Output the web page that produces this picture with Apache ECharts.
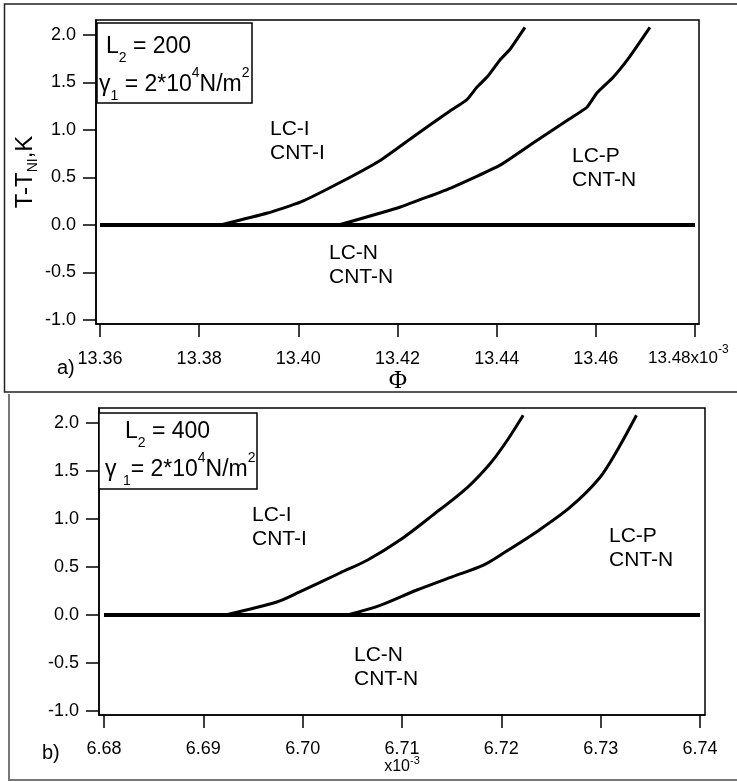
<!DOCTYPE html>
<html><head><meta charset="utf-8">
<script src="https://cdn.jsdelivr.net/npm/echarts@6/dist/echarts.min.js"></script>
<style>html,body{margin:0;padding:0;background:#fff}#c{width:737px;height:782px}</style>
</head><body><div id="c"></div>
<script>
// tick values
const yTicks = [-1.0, -0.5, 0.0, 0.5, 1.0, 1.5, 2.0];
const topXTicks = [13.36, 13.38, 13.40, 13.42, 13.44, 13.46, 13.48];
const topXLabels = [13.36, 13.38, 13.40, 13.42, 13.44, 13.46];   // 13.48 is written with its x10^-3 suffix
const botXTicks = [6.68, 6.69, 6.70, 6.71, 6.72, 6.73, 6.74];

// panel a) L2 = 200   (Phi in units of 1e-3, T-T_NI in K)
const aBaseX = [13.36, 13.48];
const aBaseY = [0, 0];
const aLeftX = [13.3843, 13.3938, 13.4004, 13.4085, 13.4165, 13.4232, 13.4300, 13.4340, 13.4360, 13.4381, 13.4407, 13.4427, 13.4457];
const aLeftY = [0, 0.126, 0.24, 0.45, 0.68, 0.93, 1.18, 1.32, 1.45, 1.56, 1.74, 1.85, 2.08];
const aRightX = [13.4081, 13.4206, 13.4312, 13.4407, 13.4481, 13.4548, 13.4582, 13.4602, 13.4634, 13.4668, 13.4709];
const aRightY = [0, 0.19, 0.40, 0.63, 0.89, 1.12, 1.24, 1.39, 1.55, 1.77, 2.08];

// panel b) L2 = 400
const bBaseX = [6.68, 6.74];
const bBaseY = [0, 0];
const bLeftX = [6.6922, 6.6974, 6.6997, 6.7038, 6.7065, 6.7098, 6.7131, 6.7166, 6.7189, 6.7206, 6.7222];
const bLeftY = [0, 0.135, 0.24, 0.44, 0.57, 0.78, 1.04, 1.33, 1.58, 1.82, 2.08];
const bRightX = [6.7045, 6.7078, 6.7115, 6.7151, 6.7182, 6.7203, 6.7236, 6.7269, 6.7299, 6.7318, 6.7336];
const bRightY = [0, 0.10, 0.26, 0.40, 0.52, 0.65, 0.87, 1.12, 1.43, 1.74, 2.08];

const zip = (xs, ys) => xs.map((x, i) => [x, ys[i]]);
const F = 'Liberation Sans, Arial, Helvetica, sans-serif';

function xAxisCfg(grid, min, max, ticks, labels, margin) {
  return {
    gridIndex: grid, type: 'value', min: min, max: max,
    axisLine: { show: true, onZero: false, lineStyle: { color: '#000', width: 1.5 } },
    axisTick: { show: true, length: 13, customValues: ticks, lineStyle: { color: '#000', width: 1.5 } },
    axisLabel: { customValues: labels, formatter: v => v.toFixed(2), margin: margin, color: '#000', fontSize: 18, fontFamily: F },
    splitLine: { show: false }
  };
}
function yAxisCfg(grid, min, max) {
  return {
    gridIndex: grid, type: 'value', min: min, max: max,
    axisLine: { show: true, onZero: false, lineStyle: { color: '#000', width: 1.5 } },
    axisTick: { show: true, length: 13, customValues: yTicks, lineStyle: { color: '#000', width: 1.5 } },
    axisLabel: { customValues: yTicks, formatter: v => v.toFixed(1), margin: 20, color: '#000', fontSize: 18, fontFamily: F },
    splitLine: { show: false }
  };
}
function lineSeries(xi, data, w, sm) {
  return { type: 'line', xAxisIndex: xi, yAxisIndex: xi, data: data, symbol: 'none', showSymbol: false,
    smooth: sm || false, lineStyle: { color: '#000', width: w }, silent: true, z: 3 };
}

const richMain = (sz, lh) => ({ fontSize: sz, fontFamily: F, fill: '#000', lineHeight: lh, verticalAlign: 'middle' });
const richSub = (sz) => ({ fontSize: sz, fontFamily: F, fill: '#000', lineHeight: sz, verticalAlign: 'bottom' });
const richSup = (sz) => ({ fontSize: sz, fontFamily: F, fill: '#000', lineHeight: sz, verticalAlign: 'top' });

function legendText(x, y, text) {
  return { type: 'text', x: x, y: y, z: 20,
    style: { text: text, align: 'left', verticalAlign: 'middle', fill: '#000',
      rich: { m: richMain(23, 37), b: richSub(14), t: richSup(14) } } };
}
function regionText(x, y, text) {
  return { type: 'text', x: x, y: y, z: 20,
    style: { text: text, align: 'left', verticalAlign: 'middle', fill: '#000', fontSize: 21, fontFamily: F, lineHeight: 24 } };
}

const chart = echarts.init(document.getElementById('c'), null, { renderer: 'canvas' });
chart.setOption({
  animation: false,
  backgroundColor: '#fff',
  grid: [
    { left: 96, top: 20, width: 603, height: 304, show: true, borderColor: '#000', borderWidth: 1.5, backgroundColor: 'transparent' },
    { left: 99, top: 408, width: 606, height: 307, show: true, borderColor: '#000', borderWidth: 1.5, backgroundColor: 'transparent' }
  ],
  xAxis: [
    xAxisCfg(0, 13.3592, 13.4808, topXTicks, topXLabels, 26),
    xAxisCfg(1, 6.6795, 6.7405, botXTicks, botXTicks, 25)
  ],
  yAxis: [ yAxisCfg(0, -1.042, 2.158), yAxisCfg(1, -1.042, 2.156) ],
  series: [
    lineSeries(0, zip(aBaseX, aBaseY), 4),
    lineSeries(0, zip(aLeftX, aLeftY), 3, 0.15),
    lineSeries(0, zip(aRightX, aRightY), 3, 0.15),
    lineSeries(1, zip(bBaseX, bBaseY), 4),
    lineSeries(1, zip(bLeftX, bLeftY), 3, 0.3),
    lineSeries(1, zip(bRightX, bRightY), 3, 0.3)
  ],
  graphic: [
    // outer panel frames
    { type: 'polyline', z: 1, shape: { points: [[740, 4], [4.5, 4], [4.5, 392], [740, 392]] }, style: { stroke: '#222', lineWidth: 1.5, fill: null } },
    { type: 'polyline', z: 1, shape: { points: [[9, 394], [9, 780], [740, 780]] }, style: { stroke: '#777', lineWidth: 2, fill: null } },
    // legend boxes
    { type: 'rect', z: 15, shape: { x: 97, y: 23, width: 155, height: 80 }, style: { fill: '#fff', stroke: '#000', lineWidth: 1.5 } },
    legendText(106, 47, '{m|L}{b|2}{m| = 200}'),
    legendText(99, 85, '{m|γ}{b|1}{m| = 2*10}{t|4}{m|N/m}{t|2}'),
    { type: 'rect', z: 15, shape: { x: 99, y: 413, width: 158, height: 76 }, style: { fill: '#fff', stroke: '#000', lineWidth: 1.5 } },
    legendText(125, 432, '{m|L}{b|2}{m| = 400}'),
    legendText(105, 470, '{m|γ }{b|1}{m|= 2*10}{t|4}{m|N/m}{t|2}'),
    // region labels
    regionText(270, 141, 'LC-I\nCNT-I'),
    regionText(329, 265, 'LC-N\nCNT-N'),
    regionText(572, 168, 'LC-P\nCNT-N'),
    regionText(252, 527, 'LC-I\nCNT-I'),
    regionText(354, 667, 'LC-N\nCNT-N'),
    regionText(609, 548, 'LC-P\nCNT-N'),
    // axis titles
    { type: 'text', x: 25, y: 172, rotation: Math.PI / 2, z: 20,
      style: { text: '{m|T-T}{b|NI}{m|,K}', align: 'center', verticalAlign: 'middle', fill: '#000',
        rich: { m: richMain(24, 30), b: richSub(14) } } },
    { type: 'text', x: 398, y: 381, z: 20,
      style: { text: 'Φ', align: 'center', verticalAlign: 'middle', fill: '#000', fontSize: 25, fontFamily: 'Liberation Serif, Times New Roman, serif' } },
    // last top tick label with its exponent
    { type: 'text', x: 648, y: 358, z: 20,
      style: { text: '{m|13.48x10}{t|-3}', align: 'left', verticalAlign: 'middle', fill: '#000',
        rich: { m: richMain(17, 28), t: richSup(12) } } },
    { type: 'text', x: 402, y: 767, z: 20,
      style: { text: '{m|x10}{t|-3}', align: 'center', verticalAlign: 'middle', fill: '#000',
        rich: { m: richMain(16, 24), t: richSup(11) } } },
    // panel letters
    { type: 'text', x: 57, y: 368, z: 20, style: { text: 'a)', align: 'left', verticalAlign: 'middle', fill: '#000', fontSize: 20, fontFamily: F } },
    { type: 'text', x: 42, y: 753, z: 20, style: { text: 'b)', align: 'left', verticalAlign: 'middle', fill: '#000', fontSize: 20, fontFamily: F } }
  ]
});
</script>
</body></html>
